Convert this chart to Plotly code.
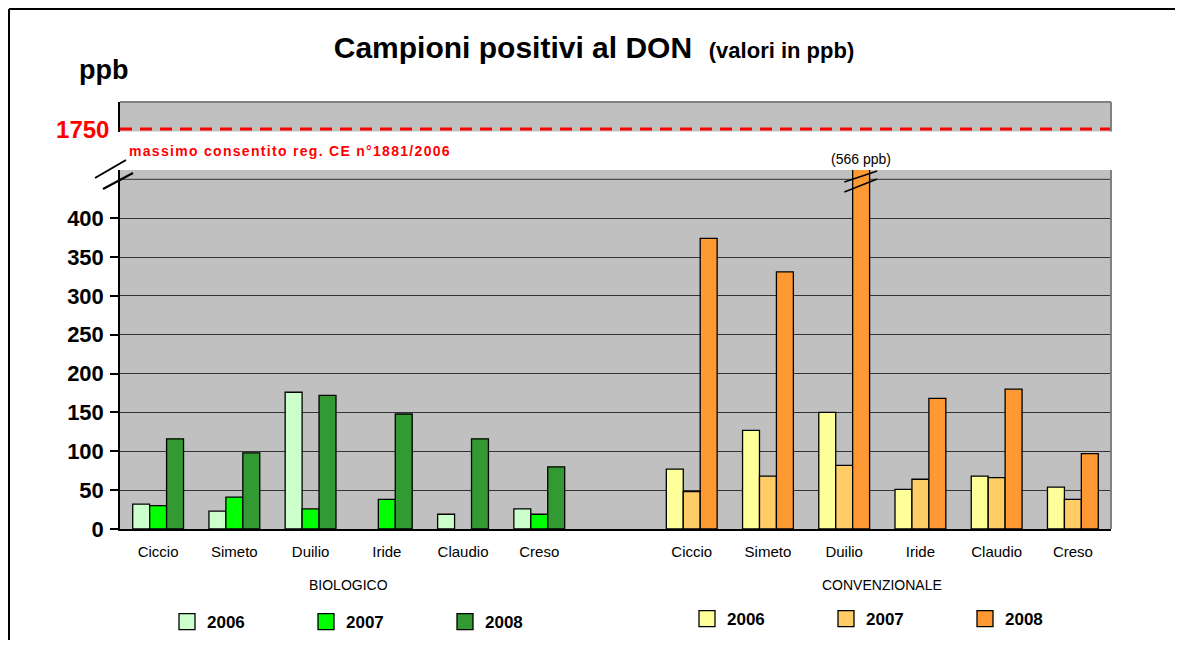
import plotly.graph_objects as go

# ---------------- data ----------------
varieties = ["Ciccio", "Simeto", "Duilio", "Iride", "Claudio", "Creso"]
group_names = ["BIOLOGICO", "CONVENZIONALE"]
years = ["2006", "2007", "2008"]

bio_2006 = [32, 23, 176, None, 19, 26]
bio_2007 = [30, 41, 26, 38, None, 19]
bio_2008 = [116, 98, 172, 148, 116, 80]

conv_2006 = [77, 127, 150, 51, 68, 54]
conv_2007 = [48, 68, 82, 64, 66, 38]
conv_2008 = [374, 331, 566, 168, 180, 97]

bio_colors = ["#CCFFCC", "#00FF00", "#339933"]
conv_colors = ["#FFFF99", "#FFCC66", "#FF9933"]

y_ticks = [0, 50, 100, 150, 200, 250, 300, 350, 400]
limit_value = 1750
limit_label = "massimo consentito reg. CE n°1881/2006"
outlier_label = "(566 ppb)"

# ---------------- layout helpers (page pixel coordinates) ----------------
OFF = 8                      # default body margin of the html page
W, H = 1183 - 2 * OFF, 648 - 2 * OFF
PL, PR, PT, PB = 120, 1111, 102, 529   # plot area in page pixels
ML, MT = PL - OFF, PT - OFF
MR, MB = W - (PR - OFF), H - (PB - OFF)
PW, PH = PR - PL, PB - PT


def px(x):
    return (x - PL) / PW


def py(y):
    return (PB - y) / PH


FONT = "Liberation Sans, Arial, sans-serif"
GRID = "#333333"
BORDER = "#808080"
BARGAP = 1.5 / 4.5
bar_w = (1 - BARGAP) / 3

bio_x = list(range(len(varieties)))
conv_x = [i + len(varieties) + 1 for i in range(len(varieties))]
all_x = bio_x + conv_x

fig = go.Figure()

bio_series = [bio_2006, bio_2007, bio_2008]
conv_series = [conv_2006, conv_2007, conv_2008]
for xs, series, colors, leg in [(bio_x, bio_series, bio_colors, "legend"),
                                (conv_x, conv_series, conv_colors, "legend2")]:
    for i, yr in enumerate(years):
        fig.add_trace(go.Bar(
            x=xs, y=series[i], name=yr, offsetgroup=yr, showlegend=False,
            marker=dict(color=colors[i], line=dict(color="black", width=1.3)),
            hoverinfo="y",
        ))
        # legend entry with a larger square swatch
        fig.add_trace(go.Scatter(
            x=[None], y=[None], mode="markers", name=yr, legend=leg,
            marker=dict(symbol="square", size=16, color=colors[i],
                        line=dict(color="black", width=1.3)),
            hoverinfo="skip",
        ))

# limit line on the upper (broken) panel
fig.add_trace(go.Scatter(
    x=[-0.5, all_x[-1] + 0.5], y=[limit_value, limit_value], mode="lines",
    line=dict(color="#FF0000", width=3, dash="12px,8px"),
    yaxis="y2", showlegend=False, hoverinfo="skip",
))

shapes = []
# gridline at 450 (no label)
shapes.append(dict(type="line", xref="paper", yref="y", x0=0, x1=1, y0=450, y1=450,
                   line=dict(color=GRID, width=1), layer="below"))
# upper panel border (top + right)
shapes.append(dict(type="line", xref="paper", yref="paper", x0=0, x1=1, y0=1, y1=1,
                   line=dict(color=BORDER, width=2)))
shapes.append(dict(type="line", xref="paper", yref="paper", x0=1, x1=1, y0=py(131.5), y1=1,
                   line=dict(color=BORDER, width=2)))
# lower panel right border
shapes.append(dict(type="line", xref="paper", yref="paper", x0=1, x1=1, y0=0, y1=py(170),
                   line=dict(color=BORDER, width=2)))
# axis break marks (left)
for (a, b, c, d) in [(95, 178, 126, 160), (103, 189, 133, 173)]:
    shapes.append(dict(type="line", xref="paper", yref="paper",
                       x0=px(a), y0=py(b), x1=px(c), y1=py(d),
                       line=dict(color="black", width=2)))
# break marks on Duilio 2008 (conv)
dx = conv_x[2] + bar_w
for (b, d) in [(192, 179), (182, 171)]:
    shapes.append(dict(type="line", xref="x", yref="paper",
                       x0=dx - 0.22, y0=py(b), x1=dx + 0.21, y1=py(d),
                       line=dict(color="black", width=1.5)))
# outer frame (left + top edges visible)
shapes.append(dict(type="line", xref="paper", yref="paper",
                   x0=px(9), y0=py(9), x1=px(1300), y1=py(9),
                   line=dict(color="black", width=2)))
shapes.append(dict(type="line", xref="paper", yref="paper",
                   x0=px(9), y0=py(9), x1=px(9), y1=py(760),
                   line=dict(color="black", width=2)))

annotations = [
    dict(text="<b>ppb</b>", x=px(103), y=py(70), xref="paper", yref="paper",
         xanchor="center", yanchor="middle",
         showarrow=False, font=dict(size=27, color="black", family=FONT)),
    dict(text="<b><span style='letter-spacing:1.3px'>" + limit_label + "</span></b>",
         x=px(127), y=py(151), xref="paper", yref="paper",
         xanchor="left", yanchor="middle", showarrow=False,
         font=dict(size=14, color="#FF0000", family=FONT)),
    dict(text=outlier_label, x=dx, y=py(159), xref="x", yref="paper",
         xanchor="center", yanchor="middle",
         showarrow=False, font=dict(size=14, color="black", family=FONT)),
]
for name, xs in zip(group_names, [bio_x, conv_x]):
    annotations.append(dict(text=name, x=sum(xs) / len(xs), y=py(585), xref="x", yref="paper",
                            xanchor="center", yanchor="middle",
                            showarrow=False, font=dict(size=14, color="black", family=FONT)))

fig.update_layout(
    width=W, height=H,
    margin=dict(l=ML, r=MR, t=MT, b=MB, autoexpand=False),
    paper_bgcolor="white", plot_bgcolor="#C0C0C0",
    barmode="group", bargap=BARGAP, bargroupgap=0,
    font=dict(family=FONT, color="black"),
    title=dict(
        text="<b>Campioni positivi al DON</b>  <span style='font-size:22px'><b>(valori in ppb)</b></span>",
        x=(594 - OFF) / W, xanchor="center", y=1 - (47 - OFF) / H, yanchor="middle",
        font=dict(size=30, family=FONT, color="black"),
    ),
    xaxis=dict(
        range=[-0.5, all_x[-1] + 0.5], tickvals=all_x, ticktext=varieties + varieties,
        showgrid=False, zeroline=False, showline=True, linecolor="black", linewidth=1.5,
        ticks="", tickfont=dict(size=15, family=FONT, color="black"),
        ticklabelstandoff=8, anchor="y",
    ),
    yaxis=dict(
        domain=[0, py(170)], range=[0, 462], tickvals=y_ticks,
        showgrid=True, gridcolor=GRID, gridwidth=1, zeroline=False,
        showline=True, linecolor="black", linewidth=1.5,
        ticks="outside", ticklen=8, tickcolor="black", tickwidth=1.5,
        tickfont=dict(size=22, family=FONT, color="black", weight="bold"),
        ticklabelstandoff=2,
    ),
    yaxis2=dict(
        domain=[py(131.5), 1], range=[1745, 1807], tickvals=[limit_value],
        ticktext=[str(limit_value)], showgrid=False, zeroline=False,
        showline=True, linecolor="black", linewidth=1.5, ticks="",
        tickfont=dict(size=24, family=FONT, color="#FF0000", weight="bold"),
        ticklabelstandoff=4, anchor="x",
    ),
    legend=dict(
        orientation="h", x=px(167), y=py(604), xanchor="left", yanchor="top",
        entrywidth=94, font=dict(size=17, family=FONT, color="black", weight="bold"),
        bgcolor="rgba(0,0,0,0)", traceorder="normal",
    ),
    legend2=dict(
        orientation="h", x=px(687), y=py(601), xanchor="left", yanchor="top",
        entrywidth=94, font=dict(size=17, family=FONT, color="black", weight="bold"),
        bgcolor="rgba(0,0,0,0)", traceorder="normal",
    ),
    shapes=shapes,
    annotations=annotations,
)

fig.write_html("out.html")
